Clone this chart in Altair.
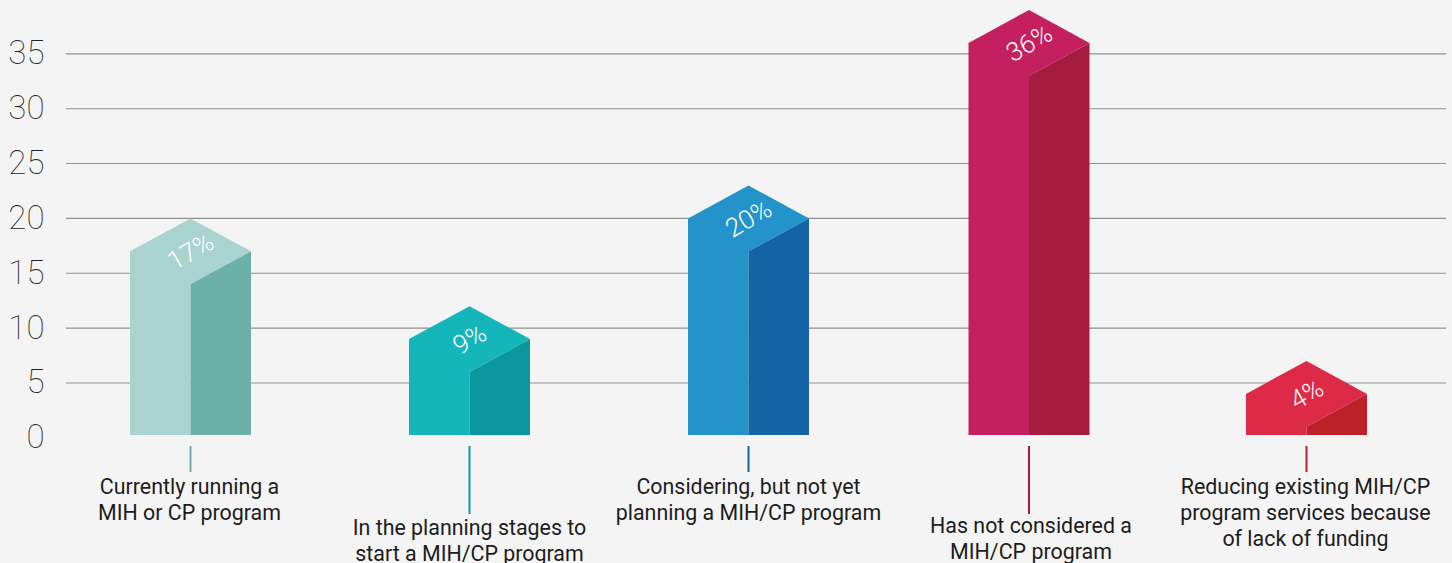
import altair as alt
import pandas as pd

# Survey responses
categories = [
    "Currently running a\nMIH or CP program",
    "In the planning stages to\nstart a MIH/CP program",
    "Considering, but not yet\nplanning a MIH/CP program",
    "Has not considered a\nMIH/CP program",
    "Reducing existing MIH/CP\nprogram services because\nof lack of funding",
]
percent = [17, 9, 20, 36, 4]
front_colors = ["#a9d3cf", "#14b6bb", "#2393c9", "#c41f5f", "#dd2a46"]
side_colors = ["#6cb1a7", "#0c96a0", "#1464a5", "#a51c3e", "#bb2127"]
long_leader = [False, True, False, True, False]
y_ticks = [0, 5, 10, 15, 20, 25, 30, 35]

# Scale geometry, in data units
PLOT_W, PLOT_H = 1380, 563
PX_PER_UNIT = 10.97
ZERO_PX = 437.8
STEP_PX = 279
Y_TOP = ZERO_PX / PX_PER_UNIT
Y_BOTTOM = (ZERO_PX - PLOT_H) / PX_PER_UNIT
X_MIN = (66 - 190.5) / STEP_PX
X_MAX = X_MIN + PLOT_W / STEP_PX
HALF = 60.5 / STEP_PX
RISE = 3.0
BASE = 0.25

# Column slots; the fourth column sits a touch right of the even spacing
SLOTS = [0, 1, 2, 3 + 1.5 / STEP_PX, 4]
LABEL_SLOTS = [0 - 1 / STEP_PX, 1, 2, 3 + 3.5 / STEP_PX, 4 - 1 / STEP_PX]
LABEL_TOP_PX = [477, 518, 476.5, 516, 476.5]


def y_at(px):
    return (ZERO_PX - px) / PX_PER_UNIT


faces = []
for i, (c, v, fc, sc) in enumerate(zip(SLOTS, percent, front_colors, side_colors)):
    left, right = c - HALF, c + HALF
    # Front face, roof diamond and darker side wall of each block
    faces += [
        dict(key=f"{i}a", draw=0, x=left, top=v, low=BASE, fill=fc),
        dict(key=f"{i}a", draw=0, x=c, top=v, low=BASE, fill=fc),
        dict(key=f"{i}b", draw=1, x=left, top=v, low=v, fill=fc),
        dict(key=f"{i}b", draw=1, x=c, top=v + RISE, low=v - RISE, fill=fc),
        dict(key=f"{i}b", draw=1, x=right, top=v, low=v, fill=fc),
        dict(key=f"{i}c", draw=2, x=c, top=v - RISE, low=BASE, fill=sc),
        dict(key=f"{i}c", draw=2, x=right, top=v, low=BASE, fill=sc),
    ]
faces = pd.DataFrame(faces)

rows = pd.DataFrame({
    "i": SLOTS,
    "label_x": LABEL_SLOTS,
    "label": categories,
    "value": percent,
    "text": [f"{v}%" for v in percent],
    "tone": side_colors,
    "lead_top": y_at(446),
    "lead_end": [y_at(514) if lng else y_at(472) for lng in long_leader],
    "label_y": [y_at(px) for px in LABEL_TOP_PX],
})

x_scale = alt.Scale(domain=[X_MIN, X_MAX], nice=False, zero=False)
y_scale = alt.Scale(domain=[Y_BOTTOM, Y_TOP], nice=False, zero=False)
y_axis = alt.Axis(
    values=y_ticks,
    domain=False,
    ticks=False,
    grid=False,
    title=None,
    labelFont="Roboto",
    labelFontWeight=100,
    labelFontSize=33,
    labelColor="#222222",
    labelPadding=22,
    labelBaseline="middle",
)
x_enc = alt.X("x:Q", scale=x_scale, axis=None)
slot_enc = alt.X("i:Q", scale=x_scale, axis=None)

grid = alt.Chart(pd.DataFrame({"tick": [t for t in y_ticks if t > 0]})).mark_rule(
    color="#8f8f8f", strokeWidth=1.1
).encode(y=alt.Y("tick:Q", scale=y_scale, axis=y_axis))


def blocks(step):
    return alt.Chart(faces[faces["draw"] == step]).mark_area(orient="vertical", interpolate="linear").encode(
        x=x_enc,
        y=alt.Y("top:Q", scale=y_scale, stack=None, axis=y_axis),
        y2="low:Q",
        detail="key:N",
        color=alt.Color("fill:N", scale=None),
    )


value_text = alt.Chart(rows).mark_text(
    font="Roboto", fontWeight=300, fontSize=26, color="white", angle=330, baseline="middle", align="center", dy=1
).encode(
    x=slot_enc,
    y=alt.Y("value:Q", scale=y_scale, axis=y_axis),
    text="text:N",
)

leaders = alt.Chart(rows).mark_rule(strokeWidth=2).encode(
    x=slot_enc,
    y=alt.Y("lead_top:Q", scale=y_scale, axis=y_axis),
    y2="lead_end:Q",
    color=alt.Color("tone:N", scale=None),
)

labels = alt.Chart(rows).mark_text(
    font="Roboto", fontSize=21.4, color="#1c1c1c", align="center", baseline="top", lineBreak="\n", lineHeight=26
).encode(
    x=alt.X("label_x:Q", scale=x_scale, axis=None),
    y=alt.Y("label_y:Q", scale=y_scale, axis=y_axis),
    text="label:N",
)

chart = alt.layer(
    grid, blocks(0), blocks(1), blocks(2), value_text, leaders, labels
).properties(
    width=PLOT_W,
    height=PLOT_H,
    background="#f4f4f4",
    padding={"left": 66, "right": 6, "top": 0, "bottom": 0},
    autosize=alt.AutoSizeParams(type="none"),
).configure_view(stroke=None)

chart.save("out.html", embed_options={"renderer": "svg", "actions": False})
